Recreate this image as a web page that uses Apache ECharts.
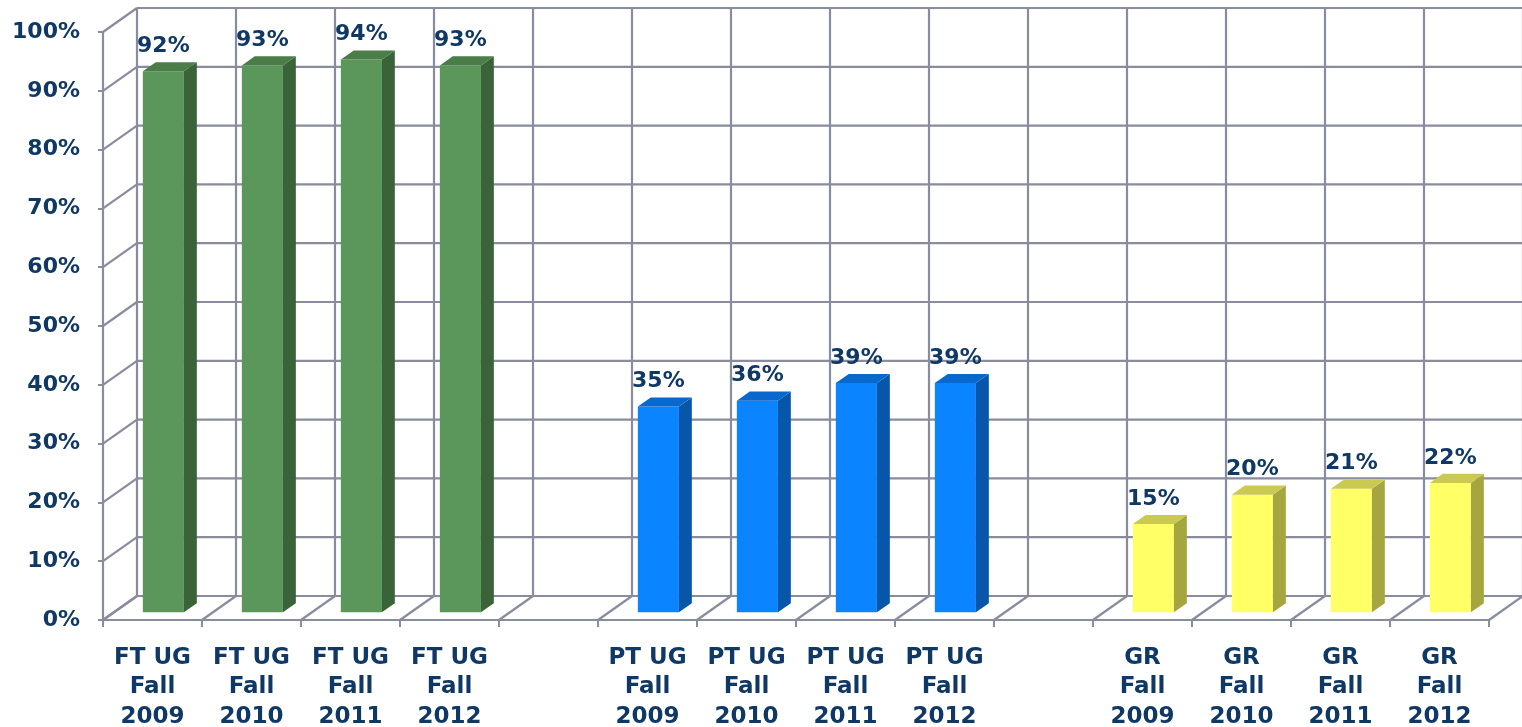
<!DOCTYPE html>
<html>
<head>
<meta charset="utf-8">
<script src="https://cdn.jsdelivr.net/npm/echarts@6/dist/echarts.min.js"></script>
<style>html,body{margin:0;padding:0;background:#fff;}#c{width:1522px;height:727px;}</style>
</head>
<body>
<div id="c"></div>
<script>
const categories = [
  'FT UG\nFall\n2009','FT UG\nFall\n2010','FT UG\nFall\n2011','FT UG\nFall\n2012','',
  'PT UG\nFall\n2009','PT UG\nFall\n2010','PT UG\nFall\n2011','PT UG\nFall\n2012','',
  'GR\nFall\n2009','GR\nFall\n2010','GR\nFall\n2011','GR\nFall\n2012'
];
const ftValues = [92, 93, 94, 93];
const ptValues = [35, 36, 39, 39];
const grValues = [15, 20, 21, 22];
const yTicks = [0, 10, 20, 30, 40, 50, 60, 70, 80, 90, 100];

const ftIdx = [0, 1, 2, 3];
const ptIdx = [5, 6, 7, 8];
const grIdx = [10, 11, 12, 13];

const DX = 34, DY = -24;      // depth offset of the back wall
const F1 = 0.32, F2 = 0.70;   // bar front / back depth fractions
const GRID = '#888c9c';
const TXT = '#0f3864';
const FONT = '"DejaVu Sans", "Liberation Sans", Arial, sans-serif';

const palettes = {
  ft: {front: '#5b975a', side: '#3b633a', top: '#4a7d48'},
  pt: {front: '#0a84ff', side: '#0756aa', top: '#0868cc'},
  gr: {front: '#ffff66', side: '#a6a641', top: '#caca52'}
};

function barRender(pal) {
  return function (params, api) {
    const idx = api.value(0), v = api.value(1);
    const base = api.coord([idx, 0]);
    const top = api.coord([idx, v]);
    const bandW = api.size([1, 0])[0];
    const w = bandW * 0.415;
    const L = base[0] + F1 * DX - w / 2;
    const R = L + w;
    const yB = base[1] + F1 * DY;
    const yT = top[1] + F1 * DY;
    const bx = (F2 - F1) * DX, by = (F2 - F1) * DY;
    return {
      type: 'group',
      children: [
        {type: 'rect', shape: {x: L, y: yT, width: w, height: yB - yT}, style: {fill: pal.front}},
        {type: 'polygon', shape: {points: [[R, yT], [R + bx, yT + by], [R + bx, yB + by], [R, yB]]}, style: {fill: pal.side}},
        {type: 'polygon', shape: {points: [[L, yT], [L + bx, yT + by], [R + bx, yT + by], [R, yT]]}, style: {fill: pal.top}},
        {type: 'text', style: {text: v + '%', x: L + w / 2, y: yT + by - 5, align: 'center', verticalAlign: 'bottom',
          fill: TXT, font: 'bold 22px ' + FONT}}
      ]
    };
  };
}

function wallRender(params, api) {
  const cs = params.coordSys;
  const y = api.coord([0, api.value(1)])[1];
  const x0 = cs.x, x1 = cs.x + cs.width;
  const st = {stroke: GRID, lineWidth: 2.2, fill: null};
  return {
    type: 'group',
    children: [
      {type: 'line', shape: {x1: x0, y1: y, x2: x0 + DX, y2: y + DY}, style: st},
      {type: 'line', shape: {x1: x0 + DX, y1: y + DY, x2: x1 + DX, y2: y + DY}, style: st}
    ]
  };
}

function boundaryRender(params, api) {
  const cs = params.coordSys;
  const k = api.value(0);
  const n = categories.length;
  const xb = cs.x + k * cs.width / n;
  const y0 = api.coord([0, 0])[1];
  const y1 = api.coord([0, 100])[1];
  const st = {stroke: GRID, lineWidth: 2.2, fill: null};
  return {
    type: 'group',
    children: [
      {type: 'line', shape: {x1: xb, y1: y0, x2: xb + DX, y2: y0 + DY}, style: st},
      {type: 'line', shape: {x1: xb + DX, y1: y0 + DY, x2: xb + DX, y2: y1 + DY}, style: st}
    ]
  };
}

const boundaries = [];
for (let k = 0; k <= categories.length; k++) boundaries.push([k, 0]);

const chart = echarts.init(document.getElementById('c'));
chart.setOption({
  backgroundColor: '#ffffff',
  animation: false,
  grid: {left: 103, right: 33, top: 32, bottom: 107, containLabel: false, outerBoundsMode: 'none'},
  xAxis: {
    type: 'category',
    data: categories,
    axisLine: {show: true, lineStyle: {color: GRID, width: 2.2}},
    axisTick: {show: true, length: 7, lineStyle: {color: GRID, width: 2}},
    axisLabel: {interval: 0, color: TXT, fontWeight: 'bold', fontSize: 23, fontFamily: FONT, lineHeight: 29.5, margin: 23},
    splitLine: {show: false}
  },
  yAxis: {
    type: 'value', min: 0, max: 100, interval: 10,
    axisLine: {show: true, lineStyle: {color: GRID, width: 2.2}},
    axisTick: {show: true, length: 5, lineStyle: {color: GRID, width: 2}},
    axisLabel: {formatter: '{value}%', color: TXT, fontWeight: 'bold', fontSize: 22, fontFamily: FONT, margin: 23, padding: [4, 0, 0, 0]},
    splitLine: {show: false}
  },
  series: [
    {type: 'custom', renderItem: wallRender, data: yTicks.map(v => [0, v]), z: 1, silent: true},
    {type: 'custom', renderItem: boundaryRender, data: boundaries, z: 1, silent: true},
    {type: 'custom', renderItem: barRender(palettes.ft), data: ftIdx.map((i, j) => [i, ftValues[j]]), z: 5},
    {type: 'custom', renderItem: barRender(palettes.pt), data: ptIdx.map((i, j) => [i, ptValues[j]]), z: 5},
    {type: 'custom', renderItem: barRender(palettes.gr), data: grIdx.map((i, j) => [i, grValues[j]]), z: 5}
  ]
});
</script>
</body>
</html>
